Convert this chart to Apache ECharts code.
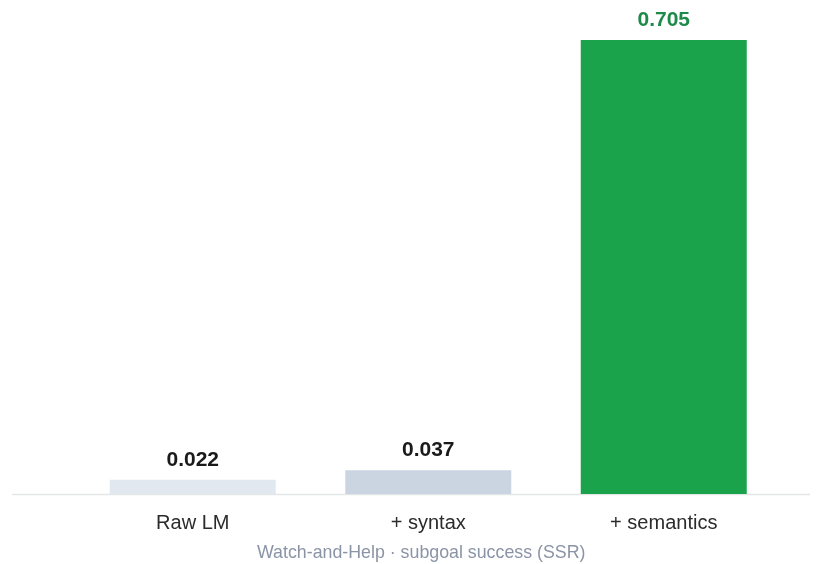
<!DOCTYPE html>
<html><head><meta charset="utf-8">
<script src="https://cdn.jsdelivr.net/npm/echarts@6/dist/echarts.min.js"></script>
<style>html,body{margin:0;padding:0;background:#fff}#c{width:821px;height:564px}</style>
</head><body><div id="c"></div>
<script>
const categories = ['Raw LM', '+ syntax', '+ semantics'];
const values = [0.022, 0.037, 0.705];
const barColors = ['#e2e8f0', '#cbd5e1', '#1aa34a'];
const labelColors = ['#1a1a1a', '#1a1a1a', '#1e8a4a'];
const subtitle = 'Watch-and-Help · subgoal success (SSR)';

const chart = echarts.init(document.getElementById('c'));
chart.setOption({
  animation: false,
  textStyle: { fontFamily: 'Liberation Sans, Arial, sans-serif' },
  grid: { left: 75, right: 39.5, top: 40, bottom: 70 },
  title: {
    text: subtitle, left: 257, top: 544, padding: 0,
    textStyle: { fontSize: 17.8, fontWeight: 'normal', color: '#8a94a6', fontFamily: 'Liberation Sans, Arial, sans-serif' }
  },
  graphic: [{
    type: 'line', shape: { x1: 12, y1: 494.5, x2: 810, y2: 494.5 },
    style: { stroke: '#e3e5e8', lineWidth: 1.5 }, z: 0
  }],
  xAxis: {
    type: 'category', data: categories,
    axisLine: { show: false }, axisTick: { show: false },
    axisLabel: { fontSize: 20, color: '#2b2b2b', margin: 19 }
  },
  yAxis: {
    type: 'value', min: 0, max: 0.705, show: false, splitLine: { show: false }
  },
  series: [{
    type: 'bar', barWidth: 166,
    data: values.map((v, i) => ({
      value: v,
      itemStyle: { color: barColors[i] },
      label: { color: labelColors[i] }
    })),
    label: {
      show: true, position: 'top', distance: 9,
      fontSize: 21, fontWeight: 'bold',
      formatter: p => p.value.toFixed(3)
    }
  }]
});
</script></body></html>
